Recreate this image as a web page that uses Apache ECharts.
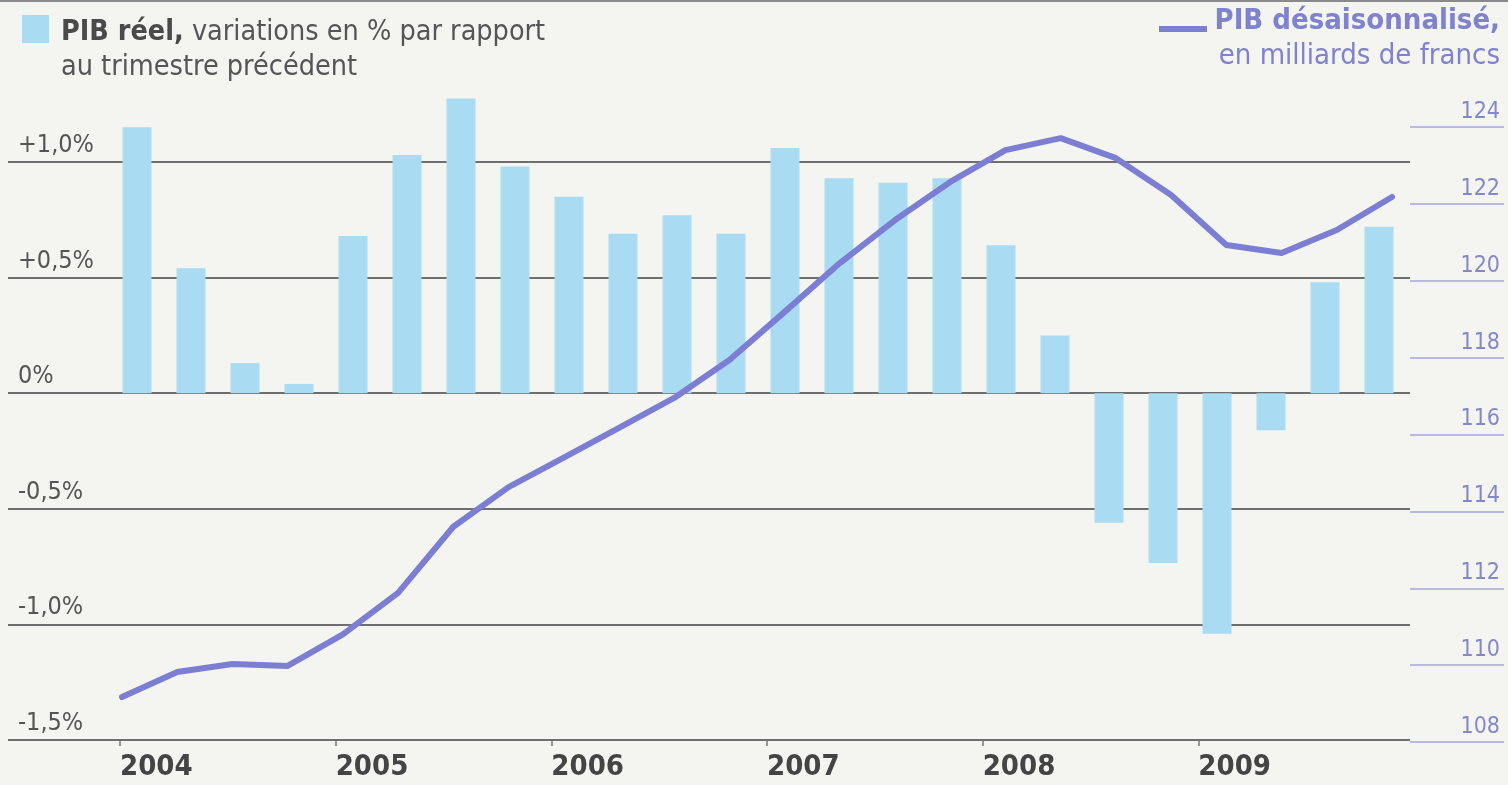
<!DOCTYPE html>
<html><head><meta charset="utf-8">
<script src="https://cdn.jsdelivr.net/npm/echarts@6/dist/echarts.min.js"></script>
<style>html,body{margin:0;padding:0;background:#f4f4f1;} #c{width:1508px;height:785px;}</style>
</head><body><div id="c"></div>
<script>
// ---- data ----
const quarters = ['2004 T1','2004 T2','2004 T3','2004 T4','2005 T1','2005 T2','2005 T3','2005 T4',
  '2006 T1','2006 T2','2006 T3','2006 T4','2007 T1','2007 T2','2007 T3','2007 T4',
  '2008 T1','2008 T2','2008 T3','2008 T4','2009 T1','2009 T2','2009 T3','2009 T4'];
const growthPct = [1.15, 0.54, 0.13, 0.04, 0.68, 1.03, 1.275, 0.98,
  0.85, 0.69, 0.77, 0.69, 1.06, 0.93, 0.91, 0.93,
  0.64, 0.25, -0.56, -0.735, -1.04, -0.16, 0.48, 0.72];
const gdpBn = [109.17, 109.82, 110.03, 109.98, 110.8, 111.88, 113.6, 114.63,
  115.4, 116.17, 116.95, 117.94, 119.19, 120.46, 121.58, 122.57,
  123.4, 123.71, 123.19, 122.23, 120.93, 120.72, 121.32, 122.18];
const years = [2004, 2005, 2006, 2007, 2008, 2009];
const yearLabels = ['2004', '2005', '2006', '2007', '2008', '2009'];
const pctTicks = [-1.5, -1.0, -0.5, 0, 0.5, 1.0];
const pctTickLabels = ['-1,5%', '-1,0%', '-0,5%', '0%', '+0,5%', '+1,0%'];
const gdpTicks = [108, 110, 112, 114, 116, 118, 120, 122, 124];
const gdpTickLabels = ['108', '110', '112', '114', '116', '118', '120', '122', '124'];

// ---- style ----
const FONT = "'Liberation Sans Narrow','DejaVu Sans Condensed','Roboto Condensed','Open Sans',sans-serif";
const barColor = '#a9dcf3';
const lineColor = '#7b7ed3';
const legendTextColor = '#7f82cc';
const gridColor = '#6e6e6e';
const textColor = '#555555';

const chart = echarts.init(document.getElementById('c'), null, {renderer: 'canvas'});
const option = {
  backgroundColor: '#f4f4f1',
  animation: false,
  grid: [
    {left: 8, right: 98, top: 162, bottom: 45},      // gridlines + left labels
    {left: 110, right: 102, top: 92.6, bottom: 45},  // bars
    {left: 122, right: 116, top: 127, bottom: 43},   // line + right axis
    {left: 120, right: 94, top: 600, bottom: 45}     // years
  ],
  xAxis: [
    {gridIndex: 0, type: 'value', min: 0, max: 1, show: false},
    {gridIndex: 1, type: 'category', data: quarters, boundaryGap: true, show: false},
    {gridIndex: 2, type: 'category', data: quarters, boundaryGap: false, show: false},
    {gridIndex: 3, type: 'value', min: 2004, max: 2010, interval: 1,
      axisLine: {show: false}, splitLine: {show: false},
      axisTick: {show: true, customValues: years, length: 6, lineStyle: {color: '#777', width: 1.5}},
      axisLabel: {customValues: years, margin: 13, align: 'left', color: '#444',
        fontFamily: FONT, fontWeight: 'bold', fontSize: 29,
        formatter: v => { const i = years.indexOf(v); return i >= 0 ? yearLabels[i] : ''; }}
    }
  ],
  yAxis: [
    {gridIndex: 0, type: 'value', min: -1.5, max: 1.0, interval: 0.5,
      axisLine: {show: false}, axisTick: {show: false},
      splitLine: {show: true, lineStyle: {color: gridColor, width: 2}},
      axisLabel: {inside: true, margin: 10, color: textColor, fontFamily: FONT, fontSize: 25,
        verticalAlign: 'bottom', lineHeight: 25, padding: [0, 0, 4, 0],
        formatter: v => { const i = pctTicks.findIndex(t => Math.abs(t - v) < 1e-6); return i >= 0 ? pctTickLabels[i] : ''; }}
    },
    {gridIndex: 1, type: 'value', min: -1.5, max: 1.3, show: false},
    {gridIndex: 2, type: 'value', min: 108, max: 124, interval: 2, position: 'right', offset: 18,
      axisLine: {show: false}, splitLine: {show: false},
      axisTick: {show: true, inside: false, length: 94, lineStyle: {color: '#a2a5dc', width: 1.5}},
      axisLabel: {margin: 90, align: 'right', verticalAlign: 'bottom', lineHeight: 22, padding: [0, 0, 4, 0],
        color: '#8488c8', fontFamily: FONT, fontSize: 23,
        formatter: v => { const i = gdpTicks.indexOf(v); return i >= 0 ? gdpTickLabels[i] : ''; }}
    },
    {gridIndex: 3, type: 'value', show: false}
  ],
  series: [
    {type: 'bar', xAxisIndex: 1, yAxisIndex: 1, data: growthPct, barWidth: 29,
      itemStyle: {color: barColor}, z: 2},
    {type: 'line', xAxisIndex: 2, yAxisIndex: 2, data: gdpBn, symbol: 'none',
      lineStyle: {color: lineColor, width: 6, cap: 'round', join: 'round'}, z: 3}
  ],
  graphic: [
    {type: 'line', shape: {x1: 0, y1: 1, x2: 1508, y2: 1}, style: {stroke: '#8a8a8a', lineWidth: 2}},
    {type: 'rect', shape: {x: 22, y: 15, width: 27, height: 28}, style: {fill: barColor}},
    {type: 'text', left: 61, top: 15, style: {
      text: '{b|PIB réel,} variations en % par rapport\nau trimestre précédent',
      fill: textColor, font: '28.5px ' + FONT, lineHeight: 35,
      rich: {b: {fontWeight: 'bold', fontSize: 28.5, fontFamily: FONT, lineHeight: 35, fill: '#4a4a4a'}}
    }},
    {type: 'line', shape: {x1: 1159, y1: 29, x2: 1207, y2: 29}, style: {stroke: lineColor, lineWidth: 6}},
    {type: 'text', x: 1500, y: 36, style: {
      text: 'PIB désaisonnalisé,', align: 'right', verticalAlign: 'bottom',
      fill: legendTextColor, font: 'bold 29px ' + FONT
    }},
    {type: 'text', x: 1500, y: 71, style: {
      text: 'en milliards de francs', align: 'right', verticalAlign: 'bottom',
      fill: legendTextColor, font: '29px ' + FONT
    }}
  ]
};
chart.setOption(option);
</script>
</body></html>
